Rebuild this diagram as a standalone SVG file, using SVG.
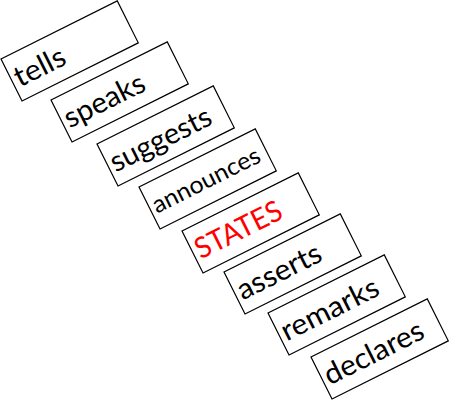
<svg xmlns="http://www.w3.org/2000/svg" width="450" height="401" viewBox="0 0 450 401">
<style>
.box{fill:#fff;stroke:#000;stroke-width:1.2}
.t{font-family:Lato,"Open Sans","Liberation Sans",sans-serif;font-size:29px;fill:#000}
.s{font-size:24px}
.red{fill:#ff0000}
</style>
<rect width="450" height="401" fill="#fff"/>
<g id="connectors"/>
<g id="n1" transform="translate(1,59) rotate(-26.57)"><rect class="box" x="0" y="0" width="130" height="47"/><text class="t" x="4" y="34" textLength="54" lengthAdjust="spacingAndGlyphs">tells</text></g>
<g id="n2" transform="translate(51,100) rotate(-26.57)"><rect class="box" x="0" y="0" width="130" height="47"/><text class="t" x="4" y="34" textLength="87" lengthAdjust="spacingAndGlyphs">speaks</text></g>
<g id="n3" transform="translate(97,144) rotate(-26.57)"><rect class="box" x="0" y="0" width="130" height="47"/><text class="t" x="4" y="34" textLength="110" lengthAdjust="spacingAndGlyphs">suggests</text></g>
<g id="n4" transform="translate(139,187) rotate(-26.57)"><rect class="box" x="0" y="0" width="130" height="47"/><text class="t s" x="4" y="32" textLength="118" lengthAdjust="spacingAndGlyphs">announces</text></g>
<g id="n5" transform="translate(182,231) rotate(-26.57)"><rect class="box" x="0" y="0" width="130" height="47"/><text class="t red" x="4" y="34" textLength="94" lengthAdjust="spacingAndGlyphs">STATES</text></g>
<g id="n6" transform="translate(224,272) rotate(-26.57)"><rect class="box" x="0" y="0" width="130" height="47"/><text class="t" x="4" y="34" textLength="91" lengthAdjust="spacingAndGlyphs">asserts</text></g>
<g id="n7" transform="translate(268,313) rotate(-26.57)"><rect class="box" x="0" y="0" width="130" height="47"/><text class="t" x="4" y="34" textLength="106" lengthAdjust="spacingAndGlyphs">remarks</text></g>
<g id="n8" transform="translate(311,357) rotate(-26.57)"><rect class="box" x="0" y="0" width="130" height="47"/><text class="t" x="4" y="34" textLength="108" lengthAdjust="spacingAndGlyphs">declares</text></g>
</svg>
